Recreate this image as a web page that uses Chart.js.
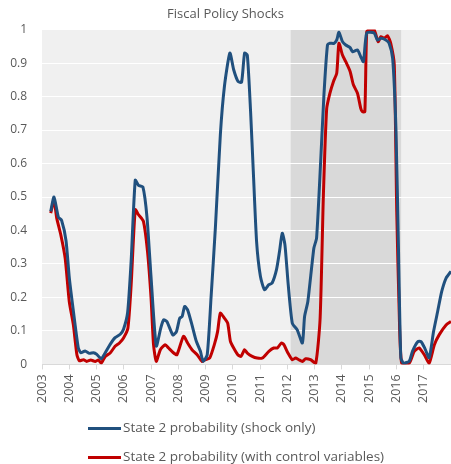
<!DOCTYPE html>
<html>
<head>
<meta charset="utf-8">
<script src="https://cdn.jsdelivr.net/npm/chart.js@4/dist/chart.umd.min.js"></script>
<style>
  body { margin: 0; background: #fff; }
  #wrap { position: relative; width: 451px; height: 464px; }
  #legend { position: absolute; left: 88px; top: 413px; font-family: "Open Sans", "Noto Sans", sans-serif; font-size: 13.5px; color: #595959; }
  .row { height: 29px; line-height: 29px; white-space: nowrap; }
  .swatch { display: inline-block; width: 33px; height: 3px; vertical-align: middle; margin-right: 2px; }
</style>
</head>
<body>
<div id="wrap">
  <canvas id="fiscalChart"></canvas>
  <div id="legend"></div>
</div>
<script>
// values (x = decimal year)
const blueDates = [2003.32, 2003.44, 2003.60, 2003.72, 2003.88, 2004.00, 2004.15, 2004.33, 2004.42, 2004.58,
  2004.74, 2004.89, 2005.01, 2005.17, 2005.32, 2005.50, 2005.68, 2005.87, 2005.99, 2006.14,
  2006.27, 2006.42, 2006.54, 2006.70, 2006.85, 2007.00, 2007.19, 2007.36, 2007.46, 2007.58,
  2007.80, 2007.93, 2008.05, 2008.14, 2008.23, 2008.34, 2008.50, 2008.66, 2008.81, 2008.91,
  2009.06, 2009.20, 2009.36, 2009.54, 2009.69, 2009.89, 2010.03, 2010.19, 2010.32, 2010.43,
  2010.53, 2010.65, 2010.75, 2010.87, 2011.01, 2011.16, 2011.32, 2011.44, 2011.60, 2011.71,
  2011.81, 2011.91, 2012.03, 2012.18, 2012.36, 2012.55, 2012.63, 2012.75, 2012.97, 2013.07,
  2013.22, 2013.34, 2013.47, 2013.56, 2013.71, 2013.81, 2013.89, 2014.02, 2014.14, 2014.30,
  2014.39, 2014.57, 2014.69, 2014.79, 2014.91, 2015.18, 2015.30, 2015.43, 2015.61, 2015.73,
  2015.86, 2015.98, 2016.07, 2016.16, 2016.26, 2016.47, 2016.59, 2016.78, 2016.90, 2017.04,
  2017.20, 2017.36, 2017.51, 2017.66, 2017.82, 2018.00];
const shockOnly = [0.457, 0.50, 0.44, 0.43, 0.37, 0.26, 0.16, 0.05, 0.035, 0.04,
  0.033, 0.035, 0.03, 0.017, 0.035, 0.06, 0.08, 0.09, 0.105, 0.155,
  0.31, 0.55, 0.535, 0.53, 0.44, 0.26, 0.055, 0.11, 0.133, 0.128,
  0.088, 0.098, 0.138, 0.143, 0.173, 0.163, 0.118, 0.069, 0.039, 0.009,
  0.029, 0.20, 0.41, 0.685, 0.83, 0.93, 0.88, 0.845, 0.843, 0.93,
  0.924, 0.755, 0.576, 0.367, 0.263, 0.223, 0.238, 0.243, 0.283, 0.337,
  0.392, 0.357, 0.238, 0.123, 0.103, 0.064, 0.143, 0.188, 0.347, 0.377,
  0.606, 0.805, 0.954, 0.959, 0.959, 0.969, 0.992, 0.964, 0.954, 0.946,
  0.934, 0.939, 0.919, 0.904, 0.99, 0.99, 0.969, 0.974, 0.969, 0.959,
  0.914, 0.705, 0.36, 0.02, 0.004, 0.01, 0.04, 0.068, 0.068, 0.048,
  0.02, 0.098, 0.158, 0.218, 0.258, 0.278];

const redDates = [2003.32, 2003.44, 2003.54, 2003.69, 2003.85, 2004.00, 2004.15, 2004.28, 2004.37, 2004.52,
  2004.64, 2004.79, 2004.95, 2005.07, 2005.17, 2005.32, 2005.50, 2005.68, 2005.84, 2005.99,
  2006.15, 2006.27, 2006.42, 2006.54, 2006.72, 2006.87, 2007.00, 2007.09, 2007.19, 2007.34,
  2007.52, 2007.64, 2007.83, 2007.95, 2008.19, 2008.34, 2008.50, 2008.69, 2008.87, 2008.99,
  2009.15, 2009.32, 2009.44, 2009.54, 2009.69, 2009.81, 2009.91, 2010.03, 2010.18, 2010.30,
  2010.43, 2010.53, 2010.71, 2010.89, 2011.08, 2011.32, 2011.50, 2011.63, 2011.78, 2011.87,
  2012.02, 2012.18, 2012.30, 2012.42, 2012.55, 2012.67, 2012.85, 2013.04, 2013.20, 2013.32,
  2013.44, 2013.56, 2013.69, 2013.81, 2013.89, 2014.02, 2014.14, 2014.30, 2014.42, 2014.57,
  2014.69, 2014.75, 2014.84, 2014.91, 2015.03, 2015.18, 2015.33, 2015.43, 2015.55, 2015.67,
  2015.79, 2015.92, 2016.01, 2016.10, 2016.19, 2016.47, 2016.65, 2016.83, 2017.02, 2017.20,
  2017.39, 2017.57, 2017.82, 2018.00];
const withControls = [0.452, 0.49, 0.437, 0.387, 0.317, 0.188, 0.118, 0.029, 0.011, 0.014,
  0.009, 0.013, 0.009, 0.013, 0.004, 0.024, 0.034, 0.054, 0.064, 0.079,
  0.108, 0.238, 0.462, 0.447, 0.427, 0.337, 0.198, 0.059, 0.009, 0.044,
  0.059, 0.049, 0.034, 0.029, 0.084, 0.064, 0.044, 0.029, 0.009, 0.014,
  0.019, 0.059, 0.098, 0.153, 0.138, 0.123, 0.069, 0.049, 0.029, 0.024,
  0.044, 0.034, 0.024, 0.019, 0.019, 0.039, 0.049, 0.049, 0.064, 0.059,
  0.034, 0.014, 0.019, 0.014, 0.009, 0.017, 0.014, 0.004, 0.138, 0.506,
  0.763, 0.81, 0.845, 0.87, 0.959, 0.924, 0.904, 0.875, 0.835, 0.81,
  0.765, 0.755, 0.755, 0.994, 1.0, 1.0, 0.964, 0.979, 0.974, 0.982,
  0.959, 0.894, 0.457, 0.158, 0.004, 0.004, 0.039, 0.049, 0.029, 0.004,
  0.059, 0.089, 0.118, 0.128];

const shadedPeriod = [2012.12, 2016.17];
const seriesNames = ['State 2 probability (shock only)', 'State 2 probability (with control variables)'];
const seriesColors = ['#20507e', '#c00000'];

const toPoints = (xs, ys) => xs.map((x, i) => ({ x: x, y: ys[i] }));

// grey plot background plus the shaded period, drawn under the grid
const plotBackground = {
    id: 'plotBackground',
    beforeDraw(chart) {
        const { ctx, chartArea, scales } = chart;
        ctx.save();
        ctx.fillStyle = '#f0f0f0';
        ctx.fillRect(chartArea.left, chartArea.top, chartArea.width, chartArea.height);
        const x0 = scales.x.getPixelForValue(shadedPeriod[0]);
        const x1 = scales.x.getPixelForValue(shadedPeriod[1]);
        ctx.fillStyle = '#d9d9d9';
        ctx.fillRect(x0, chartArea.top, x1 - x0, chartArea.height);
        ctx.restore();
    }
};

document.addEventListener("DOMContentLoaded", function() {
    Chart.defaults.font.family = '"Open Sans", "Noto Sans", sans-serif';
    Chart.defaults.color = '#595959';

    const ctx = document.getElementById('fiscalChart').getContext('2d');
    const fiscalChart = new Chart(ctx, {
        type: 'line',
        data: {
            datasets: [{
                label: seriesNames[0],
                data: toPoints(blueDates, shockOnly),
                borderColor: seriesColors[0],
                backgroundColor: seriesColors[0],
                borderWidth: 3,
                pointRadius: 0,
                tension: 0.2
            }, {
                label: seriesNames[1],
                data: toPoints(redDates, withControls),
                borderColor: seriesColors[1],
                backgroundColor: seriesColors[1],
                borderWidth: 3,
                pointRadius: 0,
                tension: 0.2
            }]
        },
        plugins: [plotBackground],
        options: {
            responsive: true,
            maintainAspectRatio: false,
            animation: false,
            layout: { padding: { bottom: 56, right: 0 } },
            scales: {
                x: {
                    type: 'linear',
                    min: 2003,
                    max: 2018,
                    // plot runs right up to the edge of the picture
                    afterFit: s => { s.paddingRight = 0; s.paddingLeft = 0; },
                    ticks: {
                        stepSize: 1,
                        minRotation: 90,
                        maxRotation: 90,
                        padding: 5,
                        font: { size: 12.5 },
                        callback: v => (v === 2018 ? '' : String(v))
                    },
                    grid: { drawOnChartArea: false, tickLength: 5, color: '#d9d9d9' },
                    border: { color: '#d9d9d9' }
                },
                y: {
                    min: 0,
                    max: 1,
                    afterFit: s => { s.width = 42; },
                    ticks: {
                        stepSize: 0.1,
                        padding: 15,
                        font: { size: 12 },
                        callback: v => String(Math.round(v * 10) / 10)
                    },
                    grid: {
                        drawTicks: false,
                        color: c => (c.tick && c.tick.value === 0 ? 'rgba(0,0,0,0)' : '#ffffff')
                    },
                    border: { display: false }
                }
            },
            plugins: {
                title: {
                    display: true,
                    text: 'Fiscal Policy Shocks',
                    font: { size: 13, weight: 'normal' },
                    color: '#595959',
                    padding: { top: 6, bottom: 8 }
                },
                legend: { display: false },
                tooltip: { enabled: false }
            }
        }
    });

    // legend stacked in two rows, like the original
    const legend = document.getElementById('legend');
    fiscalChart.data.datasets.forEach(ds => {
        const row = document.createElement('div');
        row.className = 'row';
        row.innerHTML = '<span class="swatch" style="background:' + ds.borderColor + '"></span>' + ds.label;
        legend.appendChild(row);
    });
});
</script>
</body>
</html>
